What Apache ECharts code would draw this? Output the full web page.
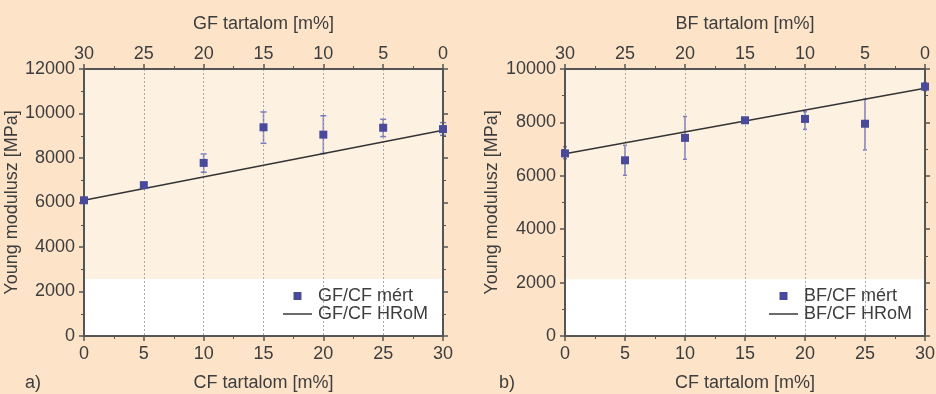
<!DOCTYPE html>
<html>
<head>
<meta charset="utf-8">
<script src="https://cdn.jsdelivr.net/npm/echarts@6/dist/echarts.min.js"></script>
<style>
  html, body { margin: 0; padding: 0; background: #fde4c9; }
  #chart { width: 936px; height: 394px; }
</style>
</head>
<body>
<div id="chart"></div>
<script>
// CF tartalom [m%] (bottom axis), values shared by both panels
const cfContent = [0, 5, 10, 15, 20, 25, 30];

// a) GF/CF
const gfMeasured = [6100, 6780, 7780, 9380, 9050, 9360, 9300];
const gfErrLow = [60, 80, 420, 720, 850, 400, 280];
const gfErrHigh = [60, 80, 400, 690, 850, 380, 290];
const gfModelX = [0, 30];
const gfModel = [6100, 9250];

// b) BF/CF
const bfMeasured = [6840, 6580, 7420, 8080, 8130, 7950, 9340];
const bfErrLow = [200, 560, 800, 80, 390, 980, 150];
const bfErrHigh = [250, 560, 800, 80, 270, 920, 150];
const bfModelX = [0, 30];
const bfModel = [6830, 9280];

// white band behind the legend (value range on y)
const gfBand = [0, 2560];
const bfBand = [0, 2130];

const font = "'Liberation Sans', Arial, sans-serif";
const textColor = "#3d3d3d";
const axisColor = "#555";

const myChart = echarts.init(document.getElementById("chart"));

const pairs = (xs, ys) => xs.map((x, i) => [x, ys[i]]);
const errData = (ys, lo, hi) => cfContent.map((x, i) => [x, ys[i] - lo[i], ys[i] + hi[i]]);

function errorBar(cap) {
  return function (params, api) {
    const x = api.value(0);
    const lo = api.coord([x, api.value(1)]);
    const hi = api.coord([x, api.value(2)]);
    const style = { stroke: "#7c7cc0", lineWidth: 1.5 };
    return {
      type: "group",
      children: [
        { type: "line", shape: { x1: lo[0], y1: lo[1], x2: hi[0], y2: hi[1] }, style },
        { type: "line", shape: { x1: lo[0] - cap, y1: lo[1], x2: lo[0] + cap, y2: lo[1] }, style },
        { type: "line", shape: { x1: hi[0] - cap, y1: hi[1], x2: hi[0] + cap, y2: hi[1] }, style },
      ],
    };
  };
}

const tickStyle = { show: true, inside: false, length: 5, lineStyle: { color: axisColor, width: 1.5 } };
const minorStyle = { show: true, splitNumber: 2, length: 3, lineStyle: { color: axisColor, width: 1 } };
const lineStyle = { show: true, onZero: false, lineStyle: { color: axisColor, width: 2 } };
const labelStyle = { color: textColor, fontSize: 18, fontFamily: font };
const nameStyle = { color: textColor, fontSize: 18, fontFamily: font };

function xAxes(gridIndex, topName) {
  return [
    {
      gridIndex,
      type: "value",
      z: 2,
      min: 0,
      max: 30,
      interval: 5,
      name: "CF tartalom [m%]",
      nameLocation: "middle",
      nameGap: 38,
      nameTextStyle: nameStyle,
      axisLine: lineStyle,
      axisTick: tickStyle,
      minorTick: minorStyle,
      axisLabel: Object.assign({ margin: 9 }, labelStyle),
      splitLine: { show: true, lineStyle: { color: "#a8a8a8", type: [2, 2], width: 1 } },
    },
    {
      gridIndex,
      type: "value",
      z: 2,
      position: "top",
      inverse: true,
      min: 0,
      max: 30,
      interval: 5,
      name: topName,
      nameLocation: "middle",
      nameGap: 36,
      nameTextStyle: nameStyle,
      axisLine: lineStyle,
      axisTick: tickStyle,
      minorTick: minorStyle,
      axisLabel: Object.assign({ margin: 6 }, labelStyle),
      splitLine: { show: false },
    },
  ];
}

function yAxes(gridIndex, max, nameGap) {
  return [
    {
      gridIndex,
      type: "value",
      z: 2,
      min: 0,
      max,
      interval: 2000,
      name: "Young modulusz [MPa]",
      nameLocation: "middle",
      nameGap,
      nameTextStyle: nameStyle,
      axisLine: lineStyle,
      axisTick: tickStyle,
      minorTick: minorStyle,
      axisLabel: Object.assign({ margin: 9, formatter: (v) => String(v) }, labelStyle),
      splitLine: { show: false },
    },
    {
      gridIndex,
      type: "value",
      z: 2,
      position: "right",
      min: 0,
      max,
      interval: 2000,
      axisLine: lineStyle,
      axisTick: tickStyle,
      minorTick: minorStyle,
      axisLabel: { show: false },
      splitLine: { show: false },
    },
  ];
}

function panelSeries(idx, prefix, measured, lo, hi, modelX, model, band, cap) {
  const xi = idx * 2;
  const yi = idx * 2;
  return [
    {
      name: "band" + idx,
      type: "custom",
      xAxisIndex: xi,
      yAxisIndex: yi,
      z: 1,
      renderItem: errorBar(cap),
      data: errData(measured, lo, hi),
      markArea: {
        silent: true,
        itemStyle: { color: "#ffffff" },
        data: [[{ yAxis: band[0] }, { yAxis: band[1] }]],
      },
    },
    {
      name: prefix + " HRoM",
      type: "line",
      xAxisIndex: xi,
      yAxisIndex: yi,
      z: 3,
      symbol: "none",
      lineStyle: { color: "#333", width: 1.5 },
      itemStyle: { color: "#333" },
      data: pairs(modelX, model),
    },
    {
      name: prefix + " mért",
      type: "scatter",
      xAxisIndex: xi,
      yAxisIndex: yi,
      z: 4,
      symbol: "rect",
      symbolSize: 8,
      itemStyle: { color: "#4a4a9c", opacity: 1 },
      data: pairs(cfContent, measured),
    },
  ];
}

function legend(left, prefix) {
  return {
    left,
    top: 287,
    orient: "vertical",
    padding: 0,
    itemGap: 0,
    itemWidth: 29,
    itemHeight: 8,
    symbolKeepAspect: true,
    itemStyle: { borderWidth: 0 },
    textStyle: { color: textColor, fontSize: 18, fontFamily: font, lineHeight: 18, padding: [0, 0, 0, 1] },
    data: [
      { name: prefix + " mért", icon: "path://M0,0H1V1H0Z" },
      { name: prefix + " HRoM", icon: "path://M0,0H30V1.5H0Z" },
    ],
  };
}

const option = {
  backgroundColor: "#fde4c9",
  animation: false,
  title: [
    { text: "a)", left: 25, top: 374, padding: 0, textStyle: { color: textColor, fontSize: 18, fontWeight: "normal", fontFamily: font } },
    { text: "b)", left: 499, top: 374, padding: 0, textStyle: { color: textColor, fontSize: 18, fontWeight: "normal", fontFamily: font } },
  ],
  legend: [legend(283, "GF/CF"), legend(769, "BF/CF")],
  grid: [
    { left: 84, right: 493, top: 69, bottom: 58, show: true, backgroundColor: "#fdf2e2", borderWidth: 0, outerBoundsMode: "none", containLabel: false },
    { left: 565, right: 11, top: 69, bottom: 58, show: true, backgroundColor: "#fdf2e2", borderWidth: 0, outerBoundsMode: "none", containLabel: false },
  ],
  xAxis: [...xAxes(0, "GF tartalom [m%]"), ...xAxes(1, "BF tartalom [m%]")],
  yAxis: [...yAxes(0, 12000, 60), ...yAxes(1, 10000, 64)],
  series: [
    ...panelSeries(0, "GF/CF", gfMeasured, gfErrLow, gfErrHigh, gfModelX, gfModel, gfBand, 3),
    ...panelSeries(1, "BF/CF", bfMeasured, bfErrLow, bfErrHigh, bfModelX, bfModel, bfBand, 2),
  ],
};

myChart.setOption(option);
window.onresize = function () {
  myChart.resize();
};
</script>
</body>
</html>
